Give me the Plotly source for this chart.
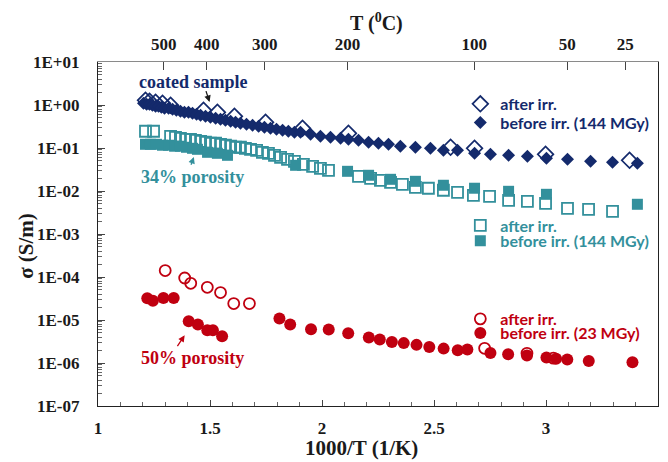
import plotly.graph_objects as go

# ---------------- data ----------------
coated_after_x = [1.212, 1.230, 1.257, 1.288, 1.324, 1.471, 1.533, 1.609, 1.748, 1.913, 2.118, 2.574, 2.681, 2.998, 3.373]
coated_after_y = [1.286, 1.219, 1.156, 1.095, 0.984, 0.753, 0.676, 0.546, 0.396, 0.287, 0.220, 0.104, 0.0984, 0.0714, 0.0518]

coated_before_x = [1.203, 1.217, 1.230, 1.243, 1.257, 1.270, 1.283, 1.297, 1.315, 1.333, 1.350, 1.368, 1.386, 1.404,
                   1.422, 1.440, 1.458, 1.480, 1.502, 1.525, 1.547, 1.569, 1.592, 1.614, 1.636, 1.663, 1.690, 1.717,
                   1.743, 1.770, 1.797, 1.824, 1.850, 1.877, 1.904, 1.949, 1.993, 2.038, 2.083, 2.118, 2.163, 2.208,
                   2.252, 2.297, 2.350, 2.417, 2.484, 2.542, 2.605, 2.681, 2.752, 2.833, 2.917, 3.002, 3.096, 3.199,
                   3.297, 3.408]
coated_before_y = [1.095, 1.038, 1.038, 0.984, 0.933, 0.933, 0.884, 0.838, 0.838, 0.794, 0.753, 0.714, 0.676, 0.676,
                   0.641, 0.608, 0.576, 0.546, 0.518, 0.491, 0.465, 0.441, 0.418, 0.396, 0.375, 0.356, 0.337, 0.320,
                   0.303, 0.287, 0.272, 0.258, 0.245, 0.232, 0.232, 0.208, 0.187, 0.177, 0.168, 0.159, 0.151, 0.136,
                   0.129, 0.122, 0.110, 0.104, 0.0984, 0.0884, 0.0884, 0.0753, 0.0714, 0.0676, 0.0641, 0.0576, 0.0546,
                   0.0491, 0.0465, 0.0441]

p34_after_x = [1.212, 1.248, 1.324, 1.346, 1.368, 1.391, 1.413, 1.435, 1.458, 1.480, 1.502, 1.525, 1.547, 1.569,
               1.592, 1.614, 1.636, 1.658, 1.681, 1.708, 1.734, 1.761, 1.788, 1.815, 1.846, 1.877, 1.917, 1.958,
               1.993, 2.029, 2.163, 2.217, 2.261, 2.306, 2.359, 2.417, 2.475, 2.542, 2.605, 2.676, 2.748, 2.833,
               2.917, 2.998, 3.096, 3.190, 3.297]
p34_after_y = [0.245, 0.245, 0.187, 0.177, 0.168, 0.159, 0.159, 0.151, 0.143, 0.136, 0.129, 0.129, 0.122, 0.116,
               0.110, 0.104, 0.104, 0.0984, 0.0933, 0.0884, 0.0794, 0.0753, 0.0676, 0.0608, 0.0546, 0.0491, 0.0418,
               0.0375, 0.0337, 0.0303, 0.0220, 0.0197, 0.0177, 0.0159, 0.0143, 0.0122, 0.0116, 0.0104, 0.00933,
               0.00794, 0.00753, 0.00608, 0.00576, 0.00518, 0.00396, 0.00375, 0.00337]

p34_before_x = [1.212, 1.234, 1.261, 1.288, 1.315, 1.342, 1.368, 1.395, 1.422, 1.444, 1.489, 1.533, 1.578, 1.882,
                2.114, 2.208, 2.306, 2.417, 2.542, 2.681, 2.833, 3.002, 3.408]
p34_before_y = [0.122, 0.122, 0.122, 0.116, 0.116, 0.110, 0.110, 0.104, 0.0984, 0.0933, 0.0794, 0.0753, 0.0676,
                0.0396, 0.0287, 0.0232, 0.0187, 0.0168, 0.0136, 0.0116, 0.00984, 0.00838, 0.00491]

p50_after_x = [1.300, 1.387, 1.414, 1.488, 1.547, 1.606, 1.676, 2.726, 2.915, 3.033]
p50_after_y = [1.41e-4, 9.48e-5, 7.14e-5, 5.76e-5, 4.34e-5, 2.41e-5, 2.41e-5, 2.20e-6, 1.68e-6, 1.30e-6]

p50_before_x = [1.220, 1.245, 1.292, 1.338, 1.405, 1.446, 1.488, 1.513, 1.554, 1.810, 1.858, 1.951, 2.030, 2.117,
                2.209, 2.258, 2.312, 2.365, 2.422, 2.479, 2.543, 2.606, 2.649, 2.752, 2.831, 2.915, 3.002, 3.045,
                3.095, 3.191, 3.386]
p50_before_y = [3.20e-5, 2.80e-5, 3.25e-5, 3.25e-5, 9.33e-6, 7.82e-6, 5.76e-6, 5.76e-6, 4.18e-6, 1.08e-5, 7.82e-6,
                6.08e-6, 5.98e-6, 4.91e-6, 3.90e-6, 3.50e-6, 3.08e-6, 2.90e-6, 2.64e-6, 2.35e-6, 2.16e-6, 1.97e-6,
                2.06e-6, 1.71e-6, 1.59e-6, 1.49e-6, 1.34e-6, 1.26e-6, 1.21e-6, 1.11e-6, 1.04e-6]

y_tick_vals = [1e1, 1e0, 1e-1, 1e-2, 1e-3, 1e-4, 1e-5, 1e-6, 1e-7]
y_tick_text = ["1E+01", "1E+00", "1E-01", "1E-02", "1E-03", "1E-04", "1E-05", "1E-06", "1E-07"]
top_celsius = [500, 400, 300, 200, 100, 50, 25]

# ---------------- styles ----------------
NAVY = "#142a6c"
TEAL = "#33909c"
RED = "#c00010"
SERIF = "Liberation Serif"
SANS = "Lato"

fig = go.Figure()

def add(x, y, sym, color, size, name, legend, lw=0):
    fig.add_trace(go.Scatter(
        x=x, y=y, mode="markers", name=name, legend=legend,
        marker=dict(symbol=sym, size=size, color=color, line=dict(color=color, width=lw)),
        hoverinfo="skip"))

add(coated_after_x, coated_after_y, "diamond-open", NAVY, 12, "after irr.", "legend", 1.7)
add(coated_before_x, coated_before_y, "diamond", NAVY, 10, "before irr. (144 MGy)", "legend2")
add(p34_after_x, p34_after_y, "square-open", TEAL, 11, "after irr.", "legend3", 1.8)
add(p34_before_x, p34_before_y, "square", TEAL, 11, "before irr. (144 MGy)", "legend4")
add(p50_after_x, p50_after_y, "circle-open", RED, 11, "after irr.", "legend5", 1.8)
add(p50_before_x, p50_before_y, "circle", RED, 12, "before irr. (23 MGy)", "legend6")

# invisible trace to carry the top temperature axis
top_pos = [1000.0 / (t + 273.15) for t in top_celsius]
fig.add_trace(go.Scatter(x=top_pos, y=[None] * len(top_pos), xaxis="x2", mode="markers",
                         showlegend=False, hoverinfo="skip"))

tickfont = dict(family=SERIF, size=17, color="#1a1a1a", weight="bold")

def leg(y, color):
    return dict(x=0.647, y=y, xanchor="left", yanchor="middle", bgcolor="rgba(0,0,0,0)",
                font=dict(family=SANS, size=16, color=color, weight="bold"), itemwidth=30)

fig.update_layout(
    width=668, height=462,
    margin=dict(l=98, r=10, t=62, b=56),
    paper_bgcolor="white", plot_bgcolor="white",
    xaxis=dict(range=[1, 3.5], dtick=0.5, tick0=1, showgrid=False, zeroline=False, automargin=False,
               showline=True, linecolor="#222", linewidth=1.3, mirror=False,
               ticks="inside", ticklen=6, tickcolor="#444", tickwidth=1,
               minor=dict(ticks="inside", dtick=0.1, ticklen=4, tickcolor="#666", showgrid=False),
               tickfont=tickfont, ticklabelstandoff=6),
    xaxis2=dict(range=[1, 3.5], overlaying="x", side="top", anchor="y", automargin=False,
                tickvals=top_pos, ticktext=[str(t) for t in top_celsius],
                showgrid=False, zeroline=False, showline=True, linecolor="#8a8a8a", linewidth=1.3,
                ticks="inside", ticklen=8, tickcolor="#444",
                tickfont=tickfont, ticklabelstandoff=4),
    yaxis=dict(type="log", range=[-7, 1], tickvals=y_tick_vals, ticktext=y_tick_text, automargin=False,
               showgrid=False, zeroline=False, showline=True, linecolor="#222", linewidth=1.3, mirror=True,
               ticks="inside", ticklen=7, tickcolor="#444",
               minor=dict(ticks="inside", ticklen=4, dtick="D1", tickcolor="#666", showgrid=False),
               tickfont=tickfont, ticklabelstandoff=14),
    legend=leg(0.878, NAVY),
    legend2=leg(0.824, NAVY),
    legend3=leg(0.525, TEAL),
    legend4=leg(0.480, TEAL),
    legend5=leg(0.253, RED),
    legend6=leg(0.212, RED),
    showlegend=True,
)

ann_font = lambda c, s=18: dict(family=SERIF, size=s, color=c, weight="bold")

annotations = [
    # series labels
    dict(x=1.422, y=0.528, xref="x", yref="y", text="coated sample", showarrow=False, font=ann_font(NAVY)),
    dict(x=1.424, y=-1.674, xref="x", yref="y", text="34% porosity", showarrow=False, font=ann_font(TEAL)),
    dict(x=1.424, y=-5.874, xref="x", yref="y", text="50% porosity", showarrow=False, font=ann_font(RED)),
    # arrows
    dict(x=1.498, y=0.070, ax=1.480, ay=0.358, xref="x", yref="y", axref="x", ayref="y", text="",
         showarrow=True, arrowhead=2, arrowsize=1, arrowwidth=1.3, arrowcolor="#1a1a1a"),
    dict(x=1.428, y=-1.209, ax=1.413, ay=-1.426, xref="x", yref="y", axref="x", ayref="y", text="",
         showarrow=True, arrowhead=2, arrowsize=1, arrowwidth=1.3, arrowcolor=TEAL),
    dict(x=1.387, y=-5.356, ax=1.350, ay=-5.642, xref="x", yref="y", axref="x", ayref="y", text="",
         showarrow=True, arrowhead=2, arrowsize=1, arrowwidth=1.3, arrowcolor=RED),
    # axis titles
    dict(x=0.4705, y=-0.123, xref="paper", yref="paper", text="1000/T (1/K)", showarrow=False,
         font=ann_font("#1a1a1a", 21), yanchor="middle"),
    dict(x=0.497, y=1.115, xref="paper", yref="paper", text="T (<sup>0</sup>C)", showarrow=False,
         font=ann_font("#1a1a1a", 20), yanchor="middle"),
    dict(x=-0.1277, y=0.467, xref="paper", yref="paper", text="σ (S/m)", showarrow=False, textangle=-90,
         font=ann_font("#1a1a1a", 21), xanchor="center", yanchor="middle"),
]
fig.update_layout(annotations=annotations)

fig.write_html("out.html", config={"displayModeBar": False},
               post_script="document.body.style.margin='0';document.body.style.padding='0';")
